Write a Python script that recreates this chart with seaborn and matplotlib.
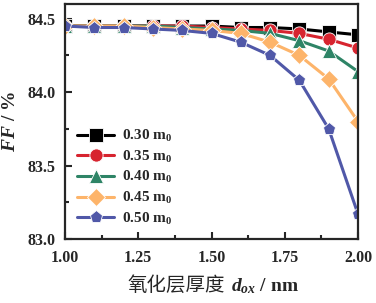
import numpy as np
import pandas as pd
import matplotlib
matplotlib.use("Agg")
import matplotlib.pyplot as plt
import seaborn as sns
from matplotlib.ticker import MultipleLocator, FormatStrFormatter

thickness = [1.0, 1.1, 1.2, 1.3, 1.4, 1.5, 1.6, 1.7, 1.8, 1.9, 2.0]
labels = ["0.30 m$_0$", "0.35 m$_0$", "0.40 m$_0$", "0.45 m$_0$", "0.50 m$_0$"]
ff_030 = [84.45, 84.45, 84.45, 84.45, 84.45, 84.45, 84.44, 84.44, 84.43, 84.41, 84.39]
ff_035 = [84.45, 84.45, 84.45, 84.45, 84.45, 84.44, 84.43, 84.42, 84.40, 84.36, 84.30]
ff_040 = [84.45, 84.45, 84.45, 84.45, 84.44, 84.43, 84.42, 84.40, 84.35, 84.28, 84.14]
ff_045 = [84.45, 84.45, 84.45, 84.44, 84.43, 84.42, 84.40, 84.34, 84.25, 84.09, 83.80]
ff_050 = [84.45, 84.44, 84.44, 84.43, 84.42, 84.40, 84.34, 84.25, 84.08, 83.75, 83.17]
series = [ff_030, ff_035, ff_040, ff_045, ff_050]

colors = ["#000000", "#d7242f", "#2e8466", "#fdb46a", "#5058a8"]
markers = ["s", "o", "^", "D", "p"]

rows = []
for lab, vals in zip(labels, series):
    for x, v in zip(thickness, vals):
        rows.append({"d": x, "FF": v, "m": lab})
df = pd.DataFrame(rows)

sns.set_style("ticks")
plt.rcParams["font.family"] = ["Liberation Serif", "Noto Sans CJK SC", "DejaVu Sans"]
plt.rcParams["font.weight"] = "bold"
plt.rcParams["mathtext.fontset"] = "custom"
plt.rcParams["mathtext.rm"] = "Liberation Serif:bold"
plt.rcParams["mathtext.it"] = "Liberation Serif:italic:bold"
plt.rcParams["mathtext.bf"] = "Liberation Serif:bold"

W, H = 376, 303
fig = plt.figure(figsize=(W / 100, H / 100), dpi=100)
ax = fig.add_axes([65 / W, 1 - 239 / H, (358 - 65) / W, (239 - 4) / H])

sns.lineplot(data=df, x="d", y="FF", hue="m", style="m",
             palette=dict(zip(labels, colors)),
             markers=dict(zip(labels, markers)), dashes=False,
             linewidth=2.2, markersize=9.5, markeredgecolor="white",
             markeredgewidth=0.6, ax=ax)

ax.set_xlim(1.0, 2.0)
ax.set_ylim(83.0, 84.6)
ax.xaxis.set_major_locator(MultipleLocator(0.25))
ax.xaxis.set_minor_locator(MultipleLocator(0.125))
ax.xaxis.set_major_formatter(FormatStrFormatter("%.2f"))
ax.yaxis.set_major_locator(MultipleLocator(0.5))
ax.yaxis.set_minor_locator(MultipleLocator(0.25))
ax.yaxis.set_major_formatter(FormatStrFormatter("%.1f"))
ax.tick_params(which="both", direction="in", width=1.5, labelsize=11.5)
ax.tick_params(which="major", length=5)
ax.tick_params(which="minor", length=3)
ax.tick_params(axis="x", which="major", pad=8)
ax.tick_params(axis="y", which="major", pad=7)
for lbl in ax.get_xticklabels() + ax.get_yticklabels():
    lbl.set_fontweight("bold")
for s in ax.spines.values():
    s.set_linewidth(1.6)
    s.set_visible(True)

ax.set_xlabel("")
fig.text(225 / W, 12 / H, "氧化层厚度", family=["Noto Sans CJK SC"],
         fontweight="normal", fontsize=14, ha="right", va="baseline")
fig.text(231 / W, 12 / H, "$d_{ox}\\ /\\ \\mathrm{nm}$", fontsize=14,
         ha="left", va="baseline")
ax.set_ylabel("$FF\\ /\\ \\%$", fontsize=14, labelpad=6)

leg = ax.legend(loc="lower left", bbox_to_anchor=(0.0, 0.0), frameon=False,
                fontsize=11, handlelength=2.4, handletextpad=0.5,
                labelspacing=0.3, borderaxespad=0.4)
for t in leg.get_texts():
    t.set_fontweight("bold")

fig.savefig("out.png", dpi=100)
